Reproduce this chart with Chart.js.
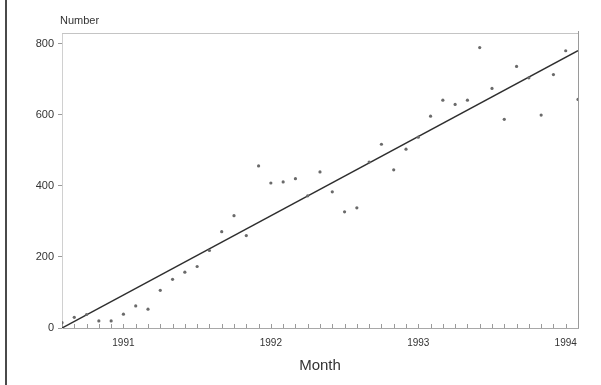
<!DOCTYPE html>
<html>
<head>
<meta charset="utf-8">
<title>Number by month</title>
<script src="https://cdn.jsdelivr.net/npm/chart.js@4/dist/chart.umd.min.js"></script>
<style>
  html, body { margin: 0; padding: 0; background: #ffffff; }
  #wrap { position: relative; width: 601px; height: 385px; overflow: hidden; }
  #edge { position: absolute; left: 5px; top: 0; width: 2px; height: 385px; background: #4a4a4a; }
  canvas { position: absolute; left: 0; top: 0; }
</style>
</head>
<body>
<div id="wrap">
  <canvas id="chart" width="601" height="385"></canvas>
  <div id="edge"></div>
</div>
<script>
// Monthly observations, Aug 1990 - Feb 1994
const months = [
  '1990-08','1990-09','1990-10','1990-11','1990-12',
  '1991-01','1991-02','1991-03','1991-04','1991-05','1991-06',
  '1991-07','1991-08','1991-09','1991-10','1991-11','1991-12',
  '1992-01','1992-02','1992-03','1992-04','1992-05','1992-06',
  '1992-07','1992-08','1992-09','1992-10','1992-11','1992-12',
  '1993-01','1993-02','1993-03','1993-04','1993-05','1993-06',
  '1993-07','1993-08','1993-09','1993-10','1993-11','1993-12',
  '1994-01','1994-02'
];
const counts = [
  15, 30, 38, 20, 20,
  39, 62, 53, 106, 137, 157,
  173, 218, 271, 316, 260, 456,
  408, 411, 420, 372, 439, 383,
  327, 338, 467, 517, 445, 503,
  537, 596, 641, 629, 641, 789,
  674, 587, 736, 704, 599, 713,
  780, 643
];
// Fitted linear trend, value at the first and at the last month
const trendMonths = ['1990-08', '1994-02'];
const trendValues = [0, 780];

const yearTicks = [1991, 1992, 1993, 1994];
const yTicks = [0, 200, 400, 600, 800];

// month string -> decimal year (Jan = .0)
function toYear(m) {
  const [y, mo] = m.split('-').map(Number);
  return y + (mo - 1) / 12;
}
const xMin = toYear(months[0]);
const xMax = toYear(months[months.length - 1]);

const points = months.map((m, i) => ({ x: toYear(m), y: counts[i] }));
const trend = trendMonths.map((m, i) => ({ x: toYear(m), y: trendValues[i] }));

const ink = '#333333';
const font = 'Liberation Sans, Arial, Helvetica, sans-serif';

// Box round the plot, monthly ticks on the bottom axis, and the "Number" caption
const framePlugin = {
  id: 'frame',
  beforeDatasetsDraw(chart) {
    const { ctx, chartArea: a, scales: { x } } = chart;
    ctx.save();
    ctx.lineWidth = 1;
    ctx.strokeStyle = '#c4c4c4';
    ctx.beginPath();
    ctx.moveTo(a.left, a.top + 0.5);
    ctx.lineTo(a.right, a.top + 0.5);
    ctx.stroke();
    ctx.strokeStyle = '#9a9a9a';
    ctx.beginPath();
    ctx.moveTo(a.right + 0.5, a.top - 2);
    ctx.lineTo(a.right + 0.5, a.bottom);
    ctx.stroke();
    // month ticks
    ctx.strokeStyle = '#9a9a9a';
    ctx.beginPath();
    months.forEach(m => {
      const px = Math.round(x.getPixelForValue(toYear(m))) + 0.5;
      ctx.moveTo(px, a.bottom);
      ctx.lineTo(px, a.bottom - 4);
    });
    ctx.stroke();
    ctx.restore();
  },
  afterDraw(chart) {
    const { ctx, chartArea: a } = chart;
    ctx.save();
    ctx.fillStyle = ink;
    ctx.font = '11px ' + font;
    ctx.textAlign = 'left';
    ctx.textBaseline = 'middle';
    ctx.fillText('Number', a.left - 2, 21);
    ctx.restore();
  }
};

new Chart(document.getElementById('chart'), {
  type: 'scatter',
  data: {
    datasets: [
      {
        label: 'Trend',
        type: 'line',
        data: trend,
        borderColor: '#2e2e2e',
        borderWidth: 1.5,
        pointRadius: 0,
        fill: false,
        order: 2
      },
      {
        label: 'Number',
        data: points,
        backgroundColor: '#6a6a6a',
        borderColor: '#6a6a6a',
        pointRadius: 1.6,
        pointBorderWidth: 0,
        order: 1
      }
    ]
  },
  options: {
    responsive: false,
    animation: false,
    devicePixelRatio: 1,
    layout: { padding: { top: 33, right: 23, left: 0, bottom: 0 } },
    plugins: {
      legend: { display: false },
      tooltip: { enabled: false },
      title: { display: false }
    },
    scales: {
      x: {
        type: 'linear',
        min: xMin,
        max: xMax,
        afterBuildTicks: s => { s.ticks = yearTicks.map(v => ({ value: v })); },
        afterFit: s => { s.height = 57; },
        grid: { display: true, drawOnChartArea: false, drawTicks: false, color: '#9a9a9a' },
        border: { display: true, color: '#a8a8a8', width: 1 },
        ticks: {
          color: ink,
          font: { family: font, size: 10 },
          padding: 9,
          maxRotation: 0,
          callback: v => String(v)
        },
        title: {
          display: true,
          text: 'Month',
          color: ink,
          font: { family: font, size: 15 },
          padding: { top: 0, bottom: 10 }
        }
      },
      y: {
        type: 'linear',
        min: 0,
        max: 830,
        afterBuildTicks: s => { s.ticks = yTicks.map(v => ({ value: v })); },
        afterFit: s => { s.width = 62; },
        grid: { display: true, drawOnChartArea: false, drawTicks: true, tickLength: 4, color: '#9a9a9a' },
        border: { display: true, color: '#d0d0d0', width: 1 },
        ticks: {
          color: ink,
          font: { family: font, size: 11 },
          padding: 4
        }
      }
    }
  },
  plugins: [framePlugin]
});
</script>
</body>
</html>
